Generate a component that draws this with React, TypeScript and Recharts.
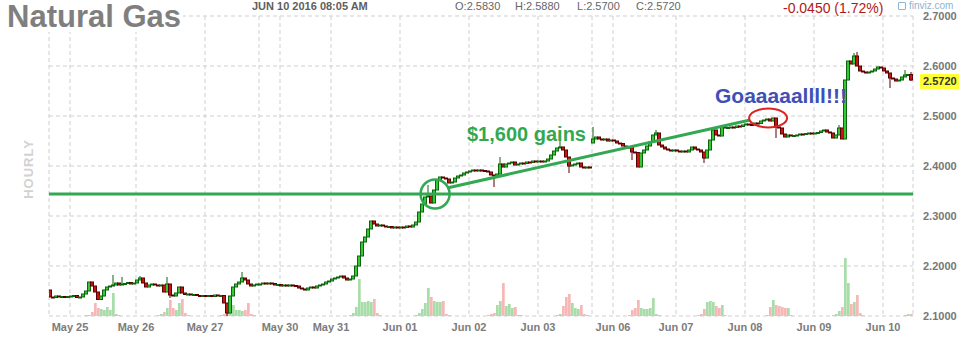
import React from "react"
import { ComposedChart, Bar, Cell, XAxis, YAxis, CartesianGrid, ReferenceLine, ReferenceDot } from "recharts"

// hourly sessions, one list per trading day
const days = ["May 24", "May 25", "May 26", "May 27", "May 29", "May 30", "May 31", "Jun 01", "Jun 02", "Jun 03", "Jun 05", "Jun 06", "Jun 07", "Jun 08", "Jun 09", "Jun 10"]
const unlabeledDays = ["May 24", "May 29", "Jun 05"]

const may24 = [2.138, 2.137, 2.140, 2.138, 2.139, 2.138, 2.139]
const may25 = [2.140, 2.141, 2.137, 2.138, 2.144, 2.150, 2.168, 2.160, 2.148, 2.133, 2.140, 2.152, 2.158, 2.160, 2.162, 2.166, 2.162, 2.164, 2.165, 2.167, 2.164, 2.166]
const may26 = [2.172, 2.176, 2.166, 2.158, 2.162, 2.164, 2.162, 2.160, 2.162, 2.148, 2.164, 2.142, 2.140, 2.146, 2.158, 2.146, 2.143, 2.144, 2.142, 2.143, 2.141, 2.140, 2.141]
const may27 = [2.140, 2.141, 2.139, 2.142, 2.140, 2.141, 2.126, 2.106, 2.140, 2.158, 2.164, 2.168, 2.176, 2.172, 2.164, 2.160, 2.162, 2.164]
const may29 = [2.164, 2.166, 2.164, 2.166, 2.165, 2.162, 2.163]
const may30 = [2.160, 2.162, 2.160, 2.162, 2.161, 2.160, 2.156, 2.154, 2.152, 2.156, 2.158, 2.156, 2.160, 2.162, 2.164, 2.168, 2.170]
const may31 = [2.174, 2.176, 2.178, 2.180, 2.176, 2.172, 2.174, 2.180, 2.200, 2.220, 2.248, 2.258, 2.274, 2.290, 2.284, 2.280, 2.282, 2.280, 2.278, 2.279, 2.276, 2.278, 2.276]
const jun01 = [2.278, 2.277, 2.280, 2.278, 2.282, 2.288, 2.308, 2.324, 2.338, 2.340, 2.326, 2.352, 2.372, 2.378, 2.376, 2.374, 2.366, 2.368, 2.376, 2.380, 2.382, 2.386, 2.388]
const jun02 = [2.390, 2.392, 2.390, 2.392, 2.391, 2.390, 2.388, 2.382, 2.380, 2.384, 2.404, 2.398, 2.404, 2.406, 2.408, 2.402, 2.404, 2.406, 2.405, 2.408, 2.407, 2.410, 2.409]
const jun03 = [2.410, 2.408, 2.410, 2.414, 2.422, 2.430, 2.436, 2.438, 2.432, 2.418, 2.400, 2.402, 2.404, 2.406, 2.398, 2.396, 2.398, 2.396]
const jun05 = [2.454, 2.458, 2.454, 2.452, 2.454, 2.450, 2.452]
const jun06 = [2.450, 2.446, 2.445, 2.440, 2.438, 2.437, 2.428, 2.427, 2.398, 2.426, 2.432, 2.440, 2.448, 2.462, 2.466, 2.442, 2.438, 2.434, 2.432, 2.430, 2.432]
const jun07 = [2.430, 2.428, 2.430, 2.428, 2.432, 2.438, 2.434, 2.432, 2.428, 2.416, 2.432, 2.452, 2.472, 2.462, 2.460, 2.480, 2.476, 2.477, 2.478, 2.477, 2.480, 2.479, 2.482]
const jun08 = [2.484, 2.483, 2.482, 2.486, 2.485, 2.490, 2.492, 2.494, 2.490, 2.496, 2.478, 2.476, 2.464, 2.458, 2.462, 2.460, 2.461, 2.462, 2.464, 2.463, 2.465, 2.466, 2.465]
const jun09 = [2.466, 2.467, 2.470, 2.472, 2.468, 2.466, 2.456, 2.462, 2.476, 2.454, 2.572, 2.610, 2.604, 2.620, 2.600, 2.590, 2.588, 2.586, 2.588, 2.590, 2.594, 2.598, 2.596]
const jun10 = [2.590, 2.586, 2.576, 2.574, 2.570, 2.572, 2.578, 2.582, 2.583, 2.572]

const volMay24 = [0, 0, 0, 0, 0, 0, 0]
const volMay25 = [0, 0, 0, 0, 0, 1, 1, 4, 13, 8, 7, 6, 9, 6, 23, 2, 1, 0, 0, 0, 0, 0]
const volMay26 = [0, 0, 0, 0, 0, 0, 0, 1, 2, 4, 8, 16, 8, 6, 13, 17, 3, 1, 0, 0, 0, 0, 0]
const volMay27 = [0, 0, 0, 0, 0, 1, 2, 3, 16, 11, 6, 6, 5, 6, 13, 2, 1, 0]
const volMay29 = [0, 0, 0, 0, 0, 0, 0]
const volMay30 = [0, 0, 0, 0, 0, 0, 0, 0, 0, 0, 0, 0, 0, 0, 0, 0, 0]
const volMay31 = [0, 0, 0, 0, 0, 0, 1, 3, 9, 37, 14, 14, 15, 14, 17, 3, 1, 0, 0, 0, 0, 0, 0]
const volJun01 = [0, 0, 0, 0, 0, 1, 3, 7, 13, 28, 19, 15, 14, 14, 15, 2, 1, 0, 0, 0, 0, 0, 0]
const volJun02 = [0, 0, 0, 0, 0, 0, 1, 2, 3, 11, 15, 33, 10, 12, 8, 9, 1, 1, 0, 0, 0, 0, 0]
const volJun03 = [0, 0, 0, 0, 0, 0, 1, 2, 10, 19, 22, 13, 8, 7, 11, 2, 1, 0]
const volJun05 = [0, 0, 0, 0, 0, 0, 0]
const volJun06 = [0, 0, 0, 0, 0, 1, 6, 8, 16, 8, 7, 7, 8, 18, 2, 1, 0, 0, 0, 0, 0]
const volJun07 = [0, 0, 0, 0, 0, 0, 0, 1, 2, 7, 14, 15, 14, 10, 8, 11, 1, 0, 0, 0, 0, 0, 0]
const volJun08 = [0, 0, 0, 0, 0, 0, 0, 1, 9, 16, 11, 10, 9, 8, 8, 1, 0, 0, 0, 0, 0, 0, 0]
const volJun09 = [0, 0, 0, 0, 0, 0, 1, 2, 5, 9, 58, 33, 12, 14, 21, 3, 1, 0, 0, 0, 0, 0, 0]
const volJun10 = [0, 0, 0, 0, 0, 0, 0, 1, 2, 2]

const dayCloses = [may24, may25, may26, may27, may29, may30, may31, jun01, jun02, jun03, jun05, jun06, jun07, jun08, jun09, jun10]
const dayVolumes = [volMay24, volMay25, volMay26, volMay27, volMay29, volMay30, volMay31, volJun01, volJun02, volJun03, volJun05, volJun06, volJun07, volJun08, volJun09, volJun10]

// opens that gap away from the previous close
const sessionOpens: Record<string, number> = { "May 24": 2.152, "Jun 05": 2.446 }

// wicks that reach past the body: [day, hour slot, side, price]
const wicks: [string, number, "h" | "l", number][] = [
  ["May 25", 14, "h", 2.182], ["May 25", 17, "h", 2.178],
  ["May 26", 1, "h", 2.180], ["May 26", 10, "h", 2.178], ["May 26", 11, "l", 2.136],
  ["May 27", 7, "l", 2.100], ["May 27", 12, "h", 2.188],
  ["Jun 01", 9, "h", 2.362],
  ["Jun 02", 8, "l", 2.358], ["Jun 02", 10, "h", 2.418],
  ["Jun 03", 7, "h", 2.452], ["Jun 03", 10, "l", 2.386],
  ["Jun 05", 0, "h", 2.478],
  ["Jun 06", 6, "l", 2.412], ["Jun 06", 14, "h", 2.472],
  ["Jun 07", 9, "l", 2.406],
  ["Jun 08", 10, "l", 2.456],
  ["Jun 09", 8, "h", 2.482], ["Jun 09", 13, "h", 2.626], ["Jun 09", 14, "h", 2.628],
  ["Jun 10", 2, "l", 2.556], ["Jun 10", 7, "h", 2.592], ["Jun 10", 9, "h", 2.588], ["Jun 10", 9, "l", 2.570],
]

const priceTicks = [2.1, 2.2, 2.3, 2.4, 2.5, 2.6, 2.7]
const lastPrice = 2.572
const quoteTime = "JUN 10 2016 08:05 AM"
const quoteFields = [["O", "2.5830", 455], ["H", "2.5880", 515], ["L", "2.5700", 577], ["C", "2.5720", 636]] as const
const quoteChange = "-0.0450 (1.72%)"

// annotations drawn on the chart
const supportLevel = 2.344
const trendFrom = { x: 132.7, y: 2.356 }
const trendTo = { x: 233.7, y: 2.492 }
const breakoutCircle = { x: 128.7, y: 2.344 }
const goalEllipse = { x: 239.7, y: 2.496 }

type Row = { x: number; open: number; close: number; high: number; low: number; range: [number, number]; vol: number; up: boolean }

const rows: Row[] = []
const dayStarts: number[] = []
let prevClose = 0
days.forEach((day, d) => {
  dayStarts.push(rows.length)
  dayCloses[d].forEach((close, k) => {
    const open = k === 0 && sessionOpens[day] !== undefined ? sessionOpens[day] : prevClose
    let high = Math.max(open, close)
    let low = Math.min(open, close)
    wicks.forEach(([wd, wk, side, p]) => {
      if (wd === day && wk === k) {
        if (side === "h") high = p
        else low = p
      }
    })
    const range: [number, number] = high - low < 0.0004 ? [low - 0.0002, high + 0.0002] : [low, high]
    rows.push({ x: rows.length + 0.5, open, close, high, low, range, vol: dayVolumes[d][k] ?? 0, up: close >= open })
    prevClose = close
  })
})
const totalBars = rows.length
const xTicks = [...dayStarts, totalBars]
const tickLabel = new Map<number, string>()
days.forEach((day, d) => {
  if (!unlabeledDays.includes(day)) tickLabel.set(dayStarts[d], day)
})

const FONT = "'Liberation Sans', Arial, sans-serif"
const GREEN = "#33a853"

const Candle = (props: any) => {
  const { x, y, width, height, payload } = props
  if (!payload) return <g />
  const top = height < 0 ? y + height : y
  const h = Math.abs(height)
  const [lo, hi] = payload.range
  const toY = (p: number) => top + ((hi - p) / (hi - lo)) * h
  const center = x + width / 2
  const bodyTop = toY(Math.max(payload.open, payload.close))
  const bodyBot = toY(Math.min(payload.open, payload.close))
  const stroke = payload.up ? "#0c650c" : "#5a0000"
  const fill = payload.up ? "#35c935" : "#c41414"
  const bx = Math.floor(center) - 1.5
  return (
    <g>
      <line x1={bx + 1.5} x2={bx + 1.5} y1={top} y2={top + h} stroke={stroke} strokeWidth={1} />
      <rect x={bx} y={bodyTop} width={3} height={Math.max(bodyBot - bodyTop, 1)} fill={fill} stroke={stroke} strokeWidth={1} />
    </g>
  )
}

const XTick = (props: any) => {
  const { x, payload } = props
  const label = tickLabel.get(payload.value)
  if (!label) return <g />
  return (
    <text x={x} y={331} textAnchor="middle" fontSize={11} fontWeight="bold" fill="#7c7c7c" fontFamily={FONT}>
      {label}
    </text>
  )
}

const YTick = (props: any) => {
  const { y, payload } = props
  return (
    <text x={923} y={y + 4} textAnchor="start" fontSize={11} fontWeight="bold" fill="#777" fontFamily={FONT}>
      {Number(payload.value).toFixed(4)}
    </text>
  )
}

const Ellipse = (props: any) => (
  <ellipse cx={props.cx} cy={props.cy} rx={19} ry={9.5} fill="none" stroke="#dd2222" strokeWidth={2} />
)

const abs = (style: React.CSSProperties): React.CSSProperties => ({ position: "absolute", lineHeight: 1, whiteSpace: "nowrap", fontFamily: FONT, ...style })

export default function App() {
  return (
    <div style={{ position: "absolute", left: 0, top: 0, width: 961, height: 337, background: "#fff", overflow: "hidden" }}>
      <ComposedChart width={961} height={337} data={rows} margin={{ top: 16, right: 0, bottom: 0, left: 49 }}>
        <CartesianGrid xAxisId="t" yAxisId="p" stroke="#cfcfcf" strokeDasharray="4 3" />
        <XAxis xAxisId="t" dataKey="x" type="number" domain={[0, totalBars]} ticks={xTicks} interval={0} height={21} axisLine={false} tickLine={false} tick={<XTick />} allowDataOverflow />
        <XAxis xAxisId="v" dataKey="x" type="number" domain={[0, totalBars]} hide allowDataOverflow />
        <YAxis yAxisId="p" orientation="right" domain={[2.1, 2.7]} ticks={priceTicks} width={48} axisLine={false} tickLine={false} tick={<YTick />} allowDataOverflow />
        <YAxis yAxisId="v" domain={[0, 300]} hide />
        <Bar xAxisId="v" yAxisId="v" dataKey="vol" barSize={3} isAnimationActive={false}>
          {rows.map((r, i) => (
            <Cell key={i} fill={r.up ? "#a8dca8" : "#f7b7b7"} />
          ))}
        </Bar>
        <Bar xAxisId="t" yAxisId="p" dataKey="range" barSize={3} shape={<Candle />} isAnimationActive={false} />
        <ReferenceLine xAxisId="t" yAxisId="p" y={supportLevel} stroke={GREEN} strokeWidth={3} />
        <ReferenceLine xAxisId="t" yAxisId="p" segment={[trendFrom, trendTo]} stroke={GREEN} strokeWidth={3} />
        <ReferenceDot xAxisId="t" yAxisId="p" x={breakoutCircle.x} y={breakoutCircle.y} r={14.5} fill="none" stroke={GREEN} strokeWidth={2.5} />
        <ReferenceDot xAxisId="t" yAxisId="p" x={goalEllipse.x} y={goalEllipse.y} shape={<Ellipse />} />
      </ComposedChart>

      <div style={abs({ left: 7, top: 1, fontSize: 31, fontWeight: "bold", color: "#7f7f7f", background: "#fff", paddingRight: 2 })}>Natural Gas</div>
      <div style={abs({ left: 252, top: 1, fontSize: 11, fontWeight: "bold", color: "#5e5e5e" })}>{quoteTime}</div>
      {quoteFields.map(([k, v, left]) => (
        <div key={k} style={abs({ left, top: 1, fontSize: 11, color: "#666" })}>
          {k}:{v}
        </div>
      ))}
      <div style={abs({ left: 783, top: 1, fontSize: 14, color: "#b01818" })}>{quoteChange}</div>
      <div style={abs({ left: 898, top: 1, fontSize: 10, color: "#8db4d2" })}>
        <span style={{ display: "inline-block", width: 6, height: 6, border: "1px solid #8db4d2", borderRadius: 1, marginRight: 3, verticalAlign: "-1px" }} />
        finviz.com
      </div>
      <div style={abs({ left: -6, top: 161, width: 70, height: 16, lineHeight: "16px", textAlign: "center", transform: "rotate(-90deg)", fontSize: 13, fontWeight: "bold", letterSpacing: 1, color: "#d2d2d2" })}>HOURLY</div>
      <div style={abs({ left: 920, top: 74, width: 39, height: 15, lineHeight: "15px", background: "#ffff33", fontSize: 11, fontWeight: "bold", color: "#333", paddingLeft: 3, boxSizing: "border-box" })}>
        {lastPrice.toFixed(4)}
      </div>
      <div style={abs({ left: 467, top: 124, fontSize: 20, fontWeight: "bold", color: GREEN })}>$1,600 gains</div>
      <div style={abs({ left: 715, top: 85, fontSize: 21, fontWeight: "bold", color: "#3f4fb8" })}>Goaaaaallll!!!</div>
    </div>
  )
}
